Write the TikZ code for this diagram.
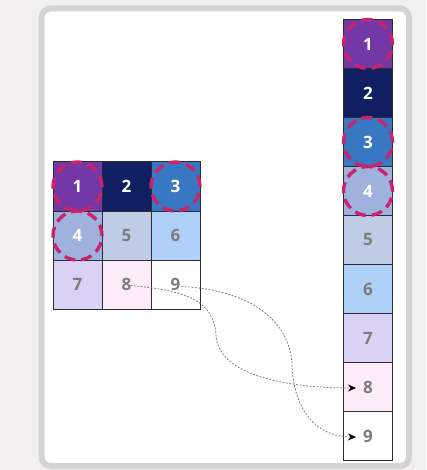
\documentclass[tikz,border=0pt]{standalone}
\usepackage{fontspec}
\setsansfont{Open Sans}
\usepackage{tikz}
\usetikzlibrary{arrows.meta,calc}
\definecolor{page}{HTML}{F1EFEF}
\definecolor{frame}{HTML}{D4D4D4}
\definecolor{edge}{HTML}{2B2B33}
\definecolor{cone}{HTML}{7338A6}
\definecolor{ctwo}{HTML}{0F1F62}
\definecolor{cthree}{HTML}{3877C2}
\definecolor{cfour}{HTML}{9FB2DE}
\definecolor{cfive}{HTML}{C0CCE6}
\definecolor{csix}{HTML}{AFD1F8}
\definecolor{cseven}{HTML}{D9D2F5}
\definecolor{ceight}{HTML}{FCEBF8}
\definecolor{digit}{HTML}{7C7C7C}
\definecolor{pick}{HTML}{C9236C}

\begin{document}
\begin{tikzpicture}[x=1pt,y=-1pt,
  cell/.style={draw=edge,line width=1pt,minimum size=49pt,inner sep=0pt,
    font=\sffamily\bfseries\fontsize{17}{20}\selectfont},
  hi/.style={cell,text=white},
  lo/.style={cell,text=digit},
  ring/.style={circle,draw=pick,line width=3.4pt,minimum size=49pt,inner sep=0pt,
    dash pattern=on 11pt off 6pt},
  flow/.style={draw=digit,line width=0.8pt,dash pattern=on 1.8pt off 1.6pt,
    -{Stealth[length=8pt,width=7pt,black]}}]
% page and panel
\fill[page] (0,0) rectangle (426,470);
\draw[frame,fill=white,line width=6pt,rounded corners=9pt] (41.5,8.5) rectangle (409,466);
% 3x3 grid
\node[hi,fill=cone]   (g1) at (77.5,186.5) {1};
\node[hi,fill=ctwo]   (g2) at (126.5,186.5) {2};
\node[hi,fill=cthree] (g3) at (175.5,186.5) {3};
\node[hi,fill=cfour]  (g4) at (77.5,235.5) {4};
\node[lo,fill=cfive]  (g5) at (126.5,235.5) {5};
\node[lo,fill=csix]   (g6) at (175.5,235.5) {6};
\node[lo,fill=cseven] (g7) at (77.5,284.5) {7};
\node[lo,fill=ceight] (g8) at (126.5,284.5) {8};
\node[lo,fill=white]  (g9) at (175.5,284.5) {9};
% flattened column
\node[hi,fill=cone]   (r1) at (368,44) {1};
\node[hi,fill=ctwo]   (r2) at (368,93) {2};
\node[hi,fill=cthree] (r3) at (368,142) {3};
\node[hi,fill=cfour]  (r4) at (368,191) {4};
\node[lo,fill=cfive]  (r5) at (368,240) {5};
\node[lo,fill=csix]   (r6) at (368,289) {6};
\node[lo,fill=cseven] (r7) at (368,338) {7};
\node[lo,fill=ceight] (r8) at (368,387) {8};
\node[lo,fill=white]  (r9) at (368,436) {9};
% selected cells
\node[ring] (s1) at (g1) {};
\node[ring] (s3) at (g3) {};
\node[ring] (s4) at (g4) {};
\node[ring] (t1) at (r1) {};
\node[ring] (t3) at (r3) {};
\node[ring] (t4) at (r4) {};
% moves
\draw[flow] ($(g8.center)+(4,1)$) .. controls (180,290) and (214,298) .. (216,335)
  .. controls (218,375) and (285,388) .. ($(r8.center)+(-12,1)$);
\draw[flow] ($(g9.center)+(6,2)$) .. controls (250,290) and (290,320) .. (292,365)
  .. controls (294,415) and (320,437) .. ($(r9.center)+(-12,1)$);
\end{tikzpicture}
\end{document}
